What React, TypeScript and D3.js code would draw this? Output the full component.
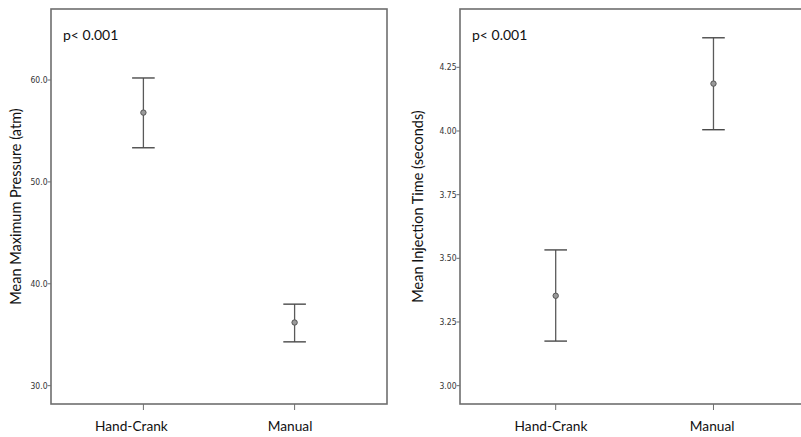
import React from "react";
import * as d3 from "d3";

const categories = ["Hand-Crank", "Manual"];

const pressureMean = [56.8, 36.2];
const pressureLow = [53.35, 34.3];
const pressureHigh = [60.2, 38.0];
const pressureTicks = [30, 40, 50, 60];

const timeMean = [3.353, 4.186];
const timeLow = [3.175, 4.005];
const timeHigh = [3.533, 4.366];
const timeTicks = [3.0, 3.25, 3.5, 3.75, 4.0, 4.25];

type PanelProps = {
  left: number;
  right: number;
  domain: [number, number];
  ticks: number[];
  fmt: (v: number) => string;
  means: number[];
  lows: number[];
  highs: number[];
  title: string;
  titleX: number;
  catPos: [number, number];
  labelDx: number[];
};

const TOP = 9;
const BOTTOM = 404;
const LINE = "#6e6e6e";

function Panel(p: PanelProps) {
  const y = d3.scaleLinear().domain(p.domain).range([BOTTOM, TOP]);
  const x = d3
    .scalePoint<string>()
    .domain(categories)
    .range([p.left + (p.right - p.left) * p.catPos[0], p.left + (p.right - p.left) * p.catPos[1]]);
  const cap = 11.3;
  return (
    <g>
      <rect x={p.left} y={TOP} width={p.right - p.left} height={BOTTOM - TOP} fill="none" stroke={LINE} strokeWidth={1.6} />
      {p.ticks.map((t) => (
        <g key={t}>
          <line x1={p.left - 3.5} x2={p.left} y1={y(t)} y2={y(t)} stroke={LINE} strokeWidth={1} />
          <text
            x={p.left - 3.5}
            y={y(t)}
            dy="0.35em"
            textAnchor="end"
            fontFamily="'Liberation Sans Narrow', 'DejaVu Sans Condensed', sans-serif"
            fontSize={8.5}
            fill="#333"
          >
            {p.fmt(t)}
          </text>
        </g>
      ))}
      {categories.map((c, i) => {
        const cx = x(c)!;
        return (
          <g key={c}>
            <line x1={cx} x2={cx} y1={BOTTOM} y2={BOTTOM + 6} stroke={LINE} strokeWidth={1} />
            <text x={cx + p.labelDx[i]} y={431} textAnchor="middle" fontFamily="Lato, 'Open Sans', sans-serif" fontSize={13.7} fill="#111">
              {c}
            </text>
            <line x1={cx} x2={cx} y1={y(p.highs[i])} y2={y(p.lows[i])} stroke="#5a5a5a" strokeWidth={1.3} />
            <line x1={cx - cap} x2={cx + cap} y1={y(p.highs[i])} y2={y(p.highs[i])} stroke="#4a4a4a" strokeWidth={1.4} />
            <line x1={cx - cap} x2={cx + cap} y1={y(p.lows[i])} y2={y(p.lows[i])} stroke="#4a4a4a" strokeWidth={1.4} />
            <circle cx={cx} cy={y(p.means[i])} r={2.7} fill="#9a9a9a" stroke="#555" strokeWidth={1} />
          </g>
        );
      })}
      <text x={p.left + 12} y={40} fontFamily="Lato, 'Open Sans', sans-serif" fontSize={14} fill="#111">
        p&lt; 0.001
      </text>
      <text
        transform={`translate(${p.titleX},${(TOP + BOTTOM) / 2}) rotate(-90)`}
        textAnchor="middle"
        fontFamily="Lato, 'Open Sans', sans-serif"
        fontSize={14.5}
        fill="#111"
      >
        {p.title}
      </text>
    </g>
  );
}

export default function App() {
  return (
    <svg
      width={801}
      height={437}
      style={{ position: "absolute", left: 0, top: 0, background: "#fff" }}
    >
      <rect width={801} height={437} fill="#fff" />
      <Panel
        left={51}
        right={387}
        domain={[28.2, 66.97]}
        ticks={pressureTicks}
        fmt={(v) => d3.format(".1f")(v)}
        means={pressureMean}
        lows={pressureLow}
        highs={pressureHigh}
        title="Mean Maximum Pressure (atm)"
        titleX={21}
        catPos={[0.275, 0.725]}
        labelDx={[-12, -4.5]}
      />
      <Panel
        left={460}
        right={803}
        domain={[2.928, 4.479]}
        ticks={timeTicks}
        fmt={(v) => d3.format(".2f")(v)}
        means={timeMean}
        lows={timeLow}
        highs={timeHigh}
        title="Mean Injection Time (seconds)"
        titleX={423}
        catPos={[0.279, 0.739]}
        labelDx={[-4.7, -1.3]}
      />
    </svg>
  );
}
